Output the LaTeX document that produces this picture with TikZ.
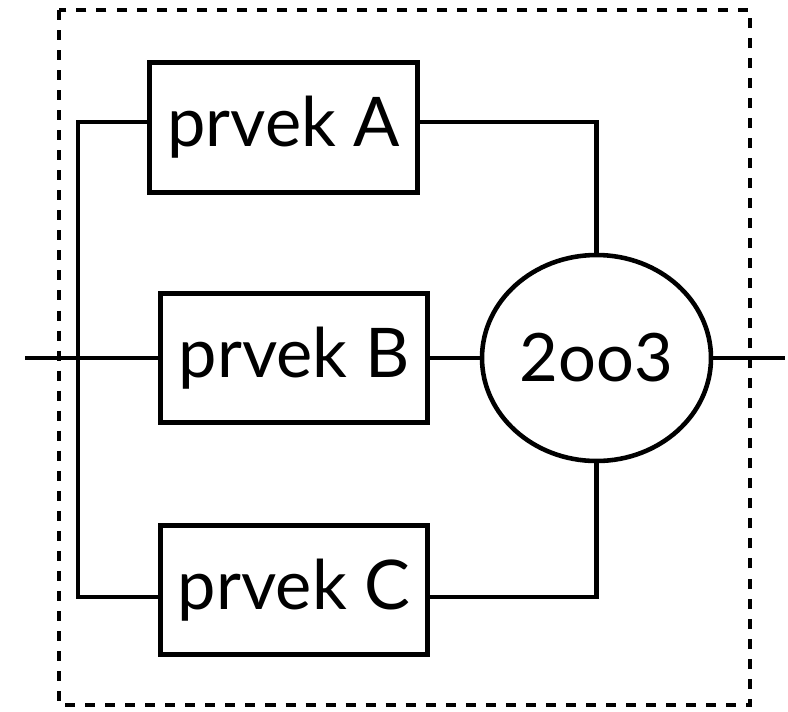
\documentclass[tikz,border=0pt]{standalone}
\usepackage{fontspec}
\setmainfont{Lato}
\usetikzlibrary{shapes.geometric}
\begin{document}
\begin{tikzpicture}
[line width=2.6pt,
 element/.style={draw, minimum width=5.35cm, minimum height=2.59cm, inner sep=0pt, font=\fontsize{39}{47}\selectfont},
 voter/.style={draw, ellipse, minimum width=4.58cm, minimum height=4.12cm, inner sep=0pt, font=\fontsize{38}{46}\selectfont},
 frame/.style={dash pattern=on 5.7pt off 5.7pt, line width=2.3pt}]
\useasboundingbox (0,0) rectangle (15.76,-14.22);
\draw[frame] (1.18,-0.2) rectangle (15.0,-14.1);
\node[element] (A) at (5.67,-2.55) {prvek A};
\node[element] (B) at (5.88,-7.16) {prvek B};
\node[element] (C) at (5.88,-11.8) {prvek C};
\node[voter] (V) at (11.93,-7.16) {2oo3};
\coordinate (in) at (0.5,-7.16);
\coordinate (out) at (15.7,-7.16);
\coordinate (busA) at (1.56,-2.44);
\coordinate (busC) at (1.56,-11.94);
\draw (busA -| A.west) -- (busA) -- (busC) -- (busC -| C.west);
\draw (in) -- (B);
\draw (B) -- (V);
\draw (V) -- (out);
\draw (busA -| A.east) -| (V.north);
\draw (busC -| C.east) -| (V.south);
\end{tikzpicture}
\end{document}
